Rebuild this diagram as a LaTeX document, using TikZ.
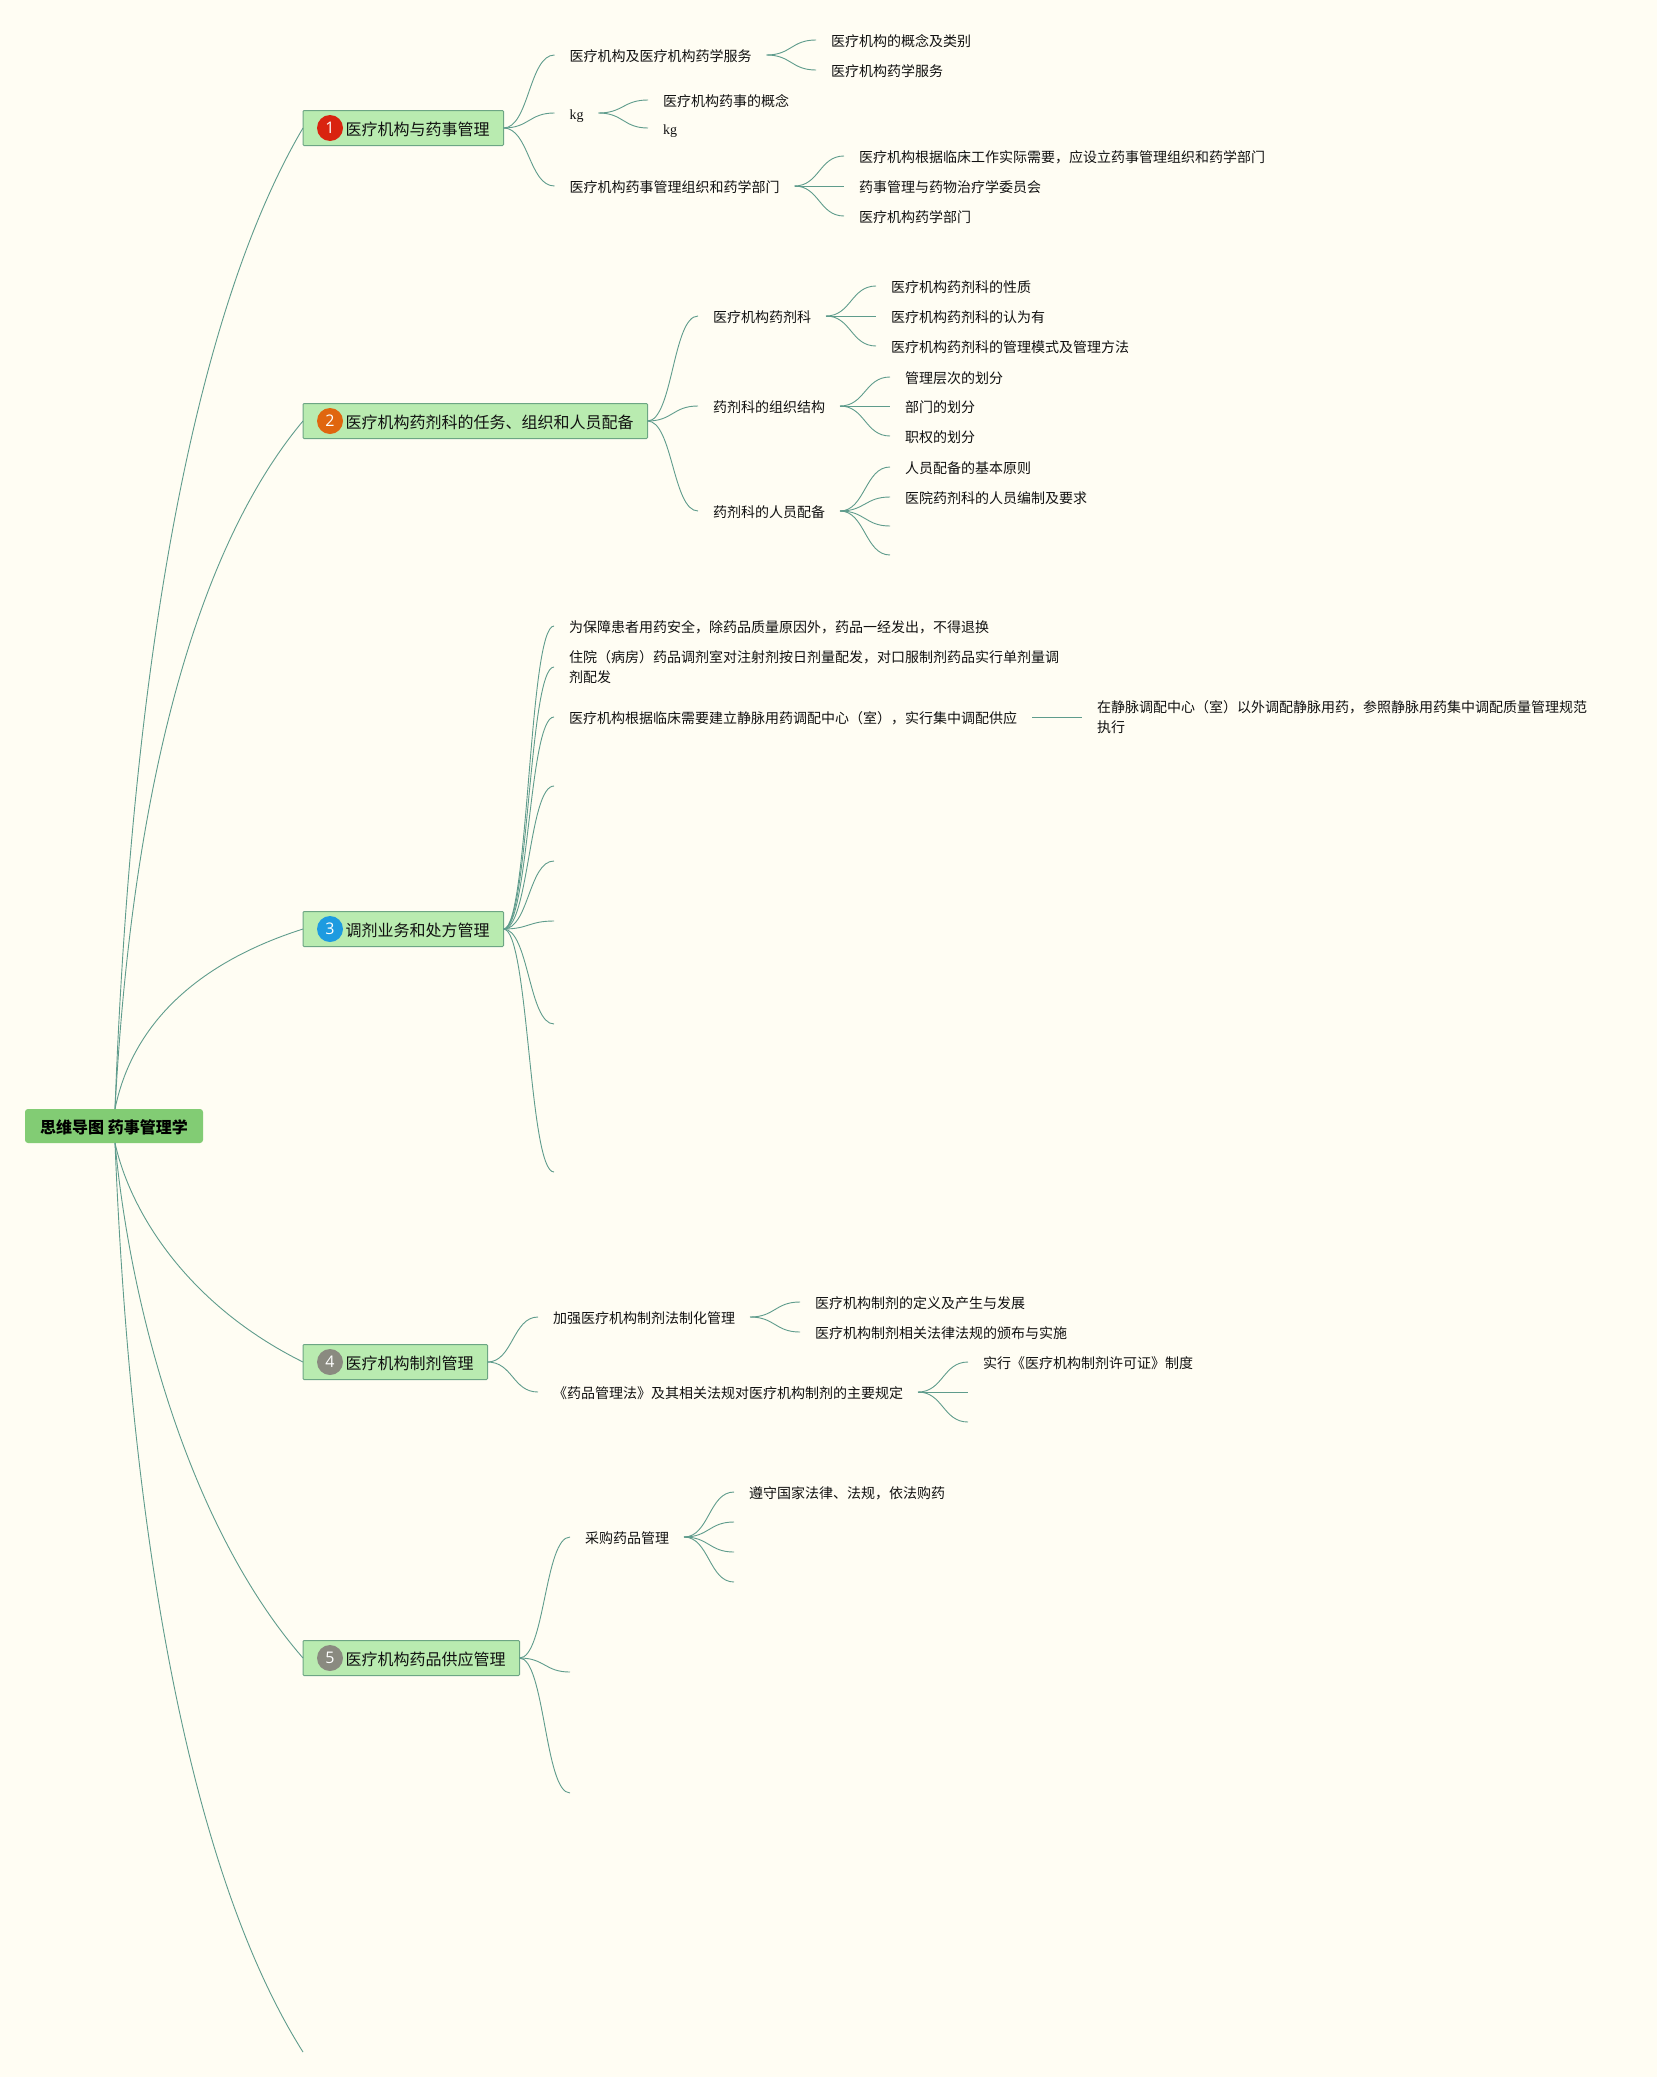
\documentclass[tikz,border=0pt]{standalone}
\usepackage{fontspec}
\setmainfont{Noto Sans CJK SC}
\newfontfamily\kgfont{Liberation Serif}
\newfontfamily\numfont{Open Sans}
\usetikzlibrary{calc}
\definecolor{paper}{HTML}{FFFDF3}
\definecolor{linkgreen}{HTML}{5F9C8C}
\definecolor{topicfill}{HTML}{B9EBB0}
\definecolor{topicline}{HTML}{6DA684}
\definecolor{rootfill}{HTML}{82CC74}
\definecolor{inkblack}{HTML}{111111}
\tikzset{
  root/.style={fill=rootfill, rounded corners=3pt, inner xsep=12pt, inner ysep=0pt,
    text height=15pt, text depth=1pt,
    minimum width=178pt, minimum height=34pt, outer sep=0pt, font=\fontsize{16}{20}\selectfont\bfseries},
  topic/.style={anchor=west, draw=topicline, fill=topicfill, rounded corners=1pt, line width=1pt,
    inner xsep=14pt, inner ysep=0pt, minimum height=35pt, outer sep=0pt,
    text height=15pt, text depth=1pt,
    text=inkblack, font=\fontsize{16}{20}\selectfont},
  badge/.style={circle, minimum size=26pt, inner sep=0pt, text=white, font=\numfont\fontsize{16}{20}\selectfont},
  leaf/.style={anchor=west, inner xsep=15pt, inner ysep=0pt, outer sep=0pt, align=left,
    text height=13pt, text depth=1pt,
    text=inkblack, font=\fontsize{14}{20}\selectfont},
  link/.style={draw=linkgreen, line width=0.9pt},
  fork/.style={link, to path={.. controls ($(\tikztostart)!0.5!(\tikztostart-|\tikztotarget)$)
    and ($(\tikztotarget)!0.5!(\tikztotarget-|\tikztostart)$) .. (\tikztotarget)}},
}
\begin{document}
\begin{tikzpicture}[x=1pt, y=-1pt]
  \fill[paper] (0,0) rectangle (1657,2077);
  \useasboundingbox (0,0) rectangle (1657,2077);

  % centre and main topics
  \node[root] (root) at (114,1126) {思维导图 药事管理学};
  \node[topic] (n1) at (303,128) {\hspace{28.5pt}医疗机构与药事管理};
  \node[topic] (n2) at (303,421) {\hspace{28.5pt}医疗机构药剂科的任务、组织和人员配备};
  \node[topic] (n3) at (303,929) {\hspace{28.5pt}调剂业务和处方管理};
  \node[topic] (n4) at (303,1362) {\hspace{28.5pt}医疗机构制剂管理};
  \node[topic] (n5) at (303,1658) {\hspace{28.5pt}医疗机构药品供应管理};
  \coordinate (n6) at (303,2052);
  \foreach \n/\c in {1/D9230F, 2/E0660F, 3/1E9BE0, 4/8A8A80, 5/8A8A80} {
    \definecolor{badgefill}{HTML}{\c}
    \node[badge, fill=badgefill] (b\n) at ([xshift=27pt]n\n.west) {\n};
  }
  \draw[link] ([xshift=1pt]root.north) .. controls (131,680) and (190,320) .. (n1.west);
  \draw[link] ([xshift=1pt]root.north) .. controls (131,808) and (190,556) .. (n2.west);
  \draw[link] ([xshift=1pt]root.north) .. controls (131,1030) and (190,965) .. (n3.west);
  \draw[link] ([xshift=1pt]root.south) .. controls (131,1215) and (190,1306) .. (n4.west);
  \draw[link] ([xshift=1pt]root.south) .. controls (131,1312) and (190,1528) .. (n5.west);
  \draw[link] ([xshift=1pt]root.south) .. controls (131,1539) and (190,1873) .. (n6);

  % topic 1
  \node[leaf] (n1a) at (554.5,55) {医疗机构及医疗机构药学服务};
  \node[leaf] (n1b) at (554.5,113) {\kgfont kg};
  \node[leaf] (n1c) at (554.5,186) {医疗机构药事管理组织和药学部门};
  \foreach \n in {a,b,c} \draw[fork] (n1.east) to (n1\n.west);
  \foreach \n/\y/\t in {1/40/医疗机构的概念及类别, 2/70/医疗机构药学服务} {
    \node[leaf] (n1a\n) at (816,\y) {\t};
    \draw[fork] (n1a.east) to (n1a\n.west);
  }
  \node[leaf] (n1b1) at (648,100) {医疗机构药事的概念};
  \node[leaf] (n1b2) at (648,128) {\kgfont kg};
  \foreach \n in {1,2} \draw[fork] (n1b.east) to (n1b\n.west);
  \foreach \n/\y/\t in {1/156/医疗机构根据临床工作实际需要，应设立药事管理组织和药学部门,
      2/186/药事管理与药物治疗学委员会, 3/216/医疗机构药学部门} {
    \node[leaf] (n1c\n) at (844,\y) {\t};
    \draw[fork] (n1c.east) to (n1c\n.west);
  }

  % topic 2
  \node[leaf] (n2a) at (698,316) {医疗机构药剂科};
  \node[leaf] (n2b) at (698,406) {药剂科的组织结构};
  \node[leaf] (n2c) at (698,511) {药剂科的人员配备};
  \foreach \n in {a,b,c} \draw[fork] (n2.east) to (n2\n.west);
  \foreach \n/\y/\t in {1/286/医疗机构药剂科的性质, 2/316/医疗机构药剂科的认为有,
      3/346/医疗机构药剂科的管理模式及管理方法} {
    \node[leaf] (n2a\n) at (876,\y) {\t};
    \draw[fork] (n2a.east) to (n2a\n.west);
  }
  \foreach \n/\y/\t in {1/377/管理层次的划分, 2/406/部门的划分, 3/436/职权的划分} {
    \node[leaf] (n2b\n) at (890,\y) {\t};
    \draw[fork] (n2b.east) to (n2b\n.west);
  }
  \node[leaf] (n2c1) at (890,467) {人员配备的基本原则};
  \node[leaf] (n2c2) at (890,497) {医院药剂科的人员编制及要求};
  \coordinate (n2c3) at (890,526);
  \coordinate (n2c4) at (890,555);
  \draw[fork] (n2c.east) to (n2c1.west);
  \draw[fork] (n2c.east) to (n2c2.west);
  \draw[fork] (n2c.east) to (n2c3);
  \draw[fork] (n2c.east) to (n2c4);

  % topic 3
  \node[leaf] (n3a) at (554,626) {为保障患者用药安全，除药品质量原因外，药品一经发出，不得退换};
  \node[leaf, text height=, text depth=] (n3b) at (554,667) {住院（病房）药品调剂室对注射剂按日剂量配发，对口服制剂药品实行单剂量调\\剂配发};
  \node[leaf] (n3c) at (554,717) {医疗机构根据临床需要建立静脉用药调配中心（室），实行集中调配供应};
  \coordinate (n3d) at (554,786);
  \coordinate (n3e) at (554,861);
  \coordinate (n3f) at (554,921);
  \coordinate (n3g) at (554,1024);
  \coordinate (n3h) at (554,1172);
  \foreach \n in {a,b,c} \draw[fork] (n3.east) to (n3\n.west);
  \foreach \n in {d,e,f,g,h} \draw[fork] (n3.east) to (n3\n);
  \node[leaf, text height=, text depth=] (n3c1) at (1082,717) {在静脉调配中心（室）以外调配静脉用药，参照静脉用药集中调配质量管理规范\\执行};
  \draw[link] (n3c.east) -- (n3c1.west);

  % topic 4
  \node[leaf] (n4a) at (538,1317) {加强医疗机构制剂法制化管理};
  \node[leaf] (n4b) at (538,1392) {《药品管理法》及其相关法规对医疗机构制剂的主要规定};
  \foreach \n in {a,b} \draw[fork] (n4.east) to (n4\n.west);
  \foreach \n/\y/\t in {1/1302/医疗机构制剂的定义及产生与发展, 2/1332/医疗机构制剂相关法律法规的颁布与实施} {
    \node[leaf] (n4a\n) at (800,\y) {\t};
    \draw[fork] (n4a.east) to (n4a\n.west);
  }
  \node[leaf] (n4b1) at (968,1362) {实行《医疗机构制剂许可证》制度};
  \coordinate (n4b2) at (968,1392);
  \coordinate (n4b3) at (968,1422);
  \draw[fork] (n4b.east) to (n4b1.west);
  \draw[fork] (n4b.east) to (n4b2);
  \draw[fork] (n4b.east) to (n4b3);

  % topic 5
  \node[leaf] (n5a) at (570,1537) {采购药品管理};
  \coordinate (n5b) at (570,1672);
  \coordinate (n5c) at (570,1793);
  \draw[fork] (n5.east) to (n5a.west);
  \draw[fork] (n5.east) to (n5b);
  \draw[fork] (n5.east) to (n5c);
  \node[leaf] (n5a1) at (734,1492) {遵守国家法律、法规，依法购药};
  \coordinate (n5a2) at (734,1522);
  \coordinate (n5a3) at (734,1552);
  \coordinate (n5a4) at (734,1582);
  \draw[fork] (n5a.east) to (n5a1.west);
  \foreach \n in {2,3,4} \draw[fork] (n5a.east) to (n5a\n);
\end{tikzpicture}
\end{document}
